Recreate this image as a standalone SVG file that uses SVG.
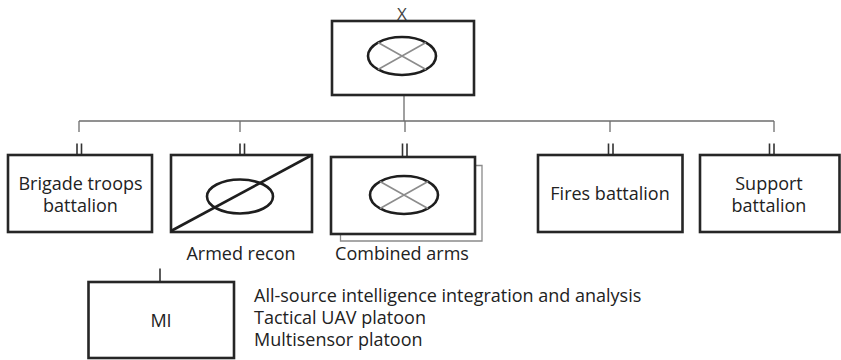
<svg xmlns="http://www.w3.org/2000/svg" width="841" height="360" viewBox="0 0 841 360">
<style>
.box{fill:#fff;stroke:#262626;stroke-width:2.6}
.shadow{fill:none;stroke:#8a8a8a;stroke-width:1.3}
.ell{fill:none;stroke:#1e1e1e;stroke-width:2.6}
.cross{stroke:#8c8c8c;stroke-width:1.6}
.conn{fill:none;stroke:#6e6e6e;stroke-width:1.3}
.tick{stroke:#333;stroke-width:1.6}
.lbl{font-family:"Open Sans","Noto Sans",sans-serif;font-size:18px;fill:#222;text-anchor:middle}
.note{font-family:"Open Sans","Noto Sans",sans-serif;font-size:18px;fill:#222}
</style>
<rect width="841" height="360" fill="#fff"/>
<g id="connectors">
<path class="conn" d="M404 95V121M79 121H774M79 121V132M240 121V132M405 121V132M610 121V132M774 121V132"/>
<g id="ticks">
<path class="tick" d="M77 143.5V155M81.5 143.5V155"/>
<path class="tick" d="M240 143.5V155M244.5 143.5V155"/>
<path class="tick" d="M402.5 143.5V157M407 143.5V157"/>
<path class="tick" d="M608.5 143.5V155M613 143.5V155"/>
<path class="tick" d="M769.5 143.5V155M774 143.5V155"/>
<path class="tick" d="M160 268.5V282"/>
</g>
</g>
<g id="brigade">
<text x="402" y="20" style="font-family:'Open Sans',sans-serif;font-size:17px;fill:#444;text-anchor:middle">X</text>
<rect class="box" x="332" y="21" width="142" height="74"/>
<ellipse class="ell" cx="402" cy="56" rx="34" ry="19"/>
<path class="cross" d="M378 42.5L426 69.5M426 42.5L378 69.5"/>
</g>
<g id="brigade-troops">
<rect class="box" x="8" y="155" width="144" height="77"/>
<text class="lbl" x="80.5" y="190">Brigade troops</text>
<text class="lbl" x="80.5" y="212">battalion</text>
</g>
<g id="armed-recon">
<rect class="box" x="171" y="155" width="141" height="77"/>
<ellipse class="ell" cx="240" cy="196.5" rx="33" ry="17"/>
<path class="ell" d="M171 231L312 155"/>
<text class="lbl" x="241" y="260">Armed recon</text>
</g>
<g id="combined-arms">
<path class="shadow" d="M340.5 234V241H482V165.5H475"/>
<rect class="box" x="331" y="157" width="144" height="77"/>
<ellipse class="ell" cx="404" cy="195" rx="34" ry="19"/>
<path class="cross" d="M380 181.5L428 208.5M428 181.5L380 208.5"/>
<text class="lbl" x="402" y="260">Combined arms</text>
</g>
<g id="fires">
<rect class="box" x="538" y="155" width="144.5" height="77"/>
<text class="lbl" x="610" y="200">Fires battalion</text>
</g>
<g id="support">
<rect class="box" x="700" y="155" width="139.5" height="77"/>
<text class="lbl" x="769" y="190">Support</text>
<text class="lbl" x="769" y="212">battalion</text>
</g>
<g id="mi">
<rect class="box" x="88.5" y="282" width="145.5" height="76"/>
<text class="lbl" x="161" y="327">MI</text>
</g>
<g id="mi-notes">
<text class="note" x="254" y="302">All-source intelligence integration and analysis</text>
<text class="note" x="254" y="324">Tactical UAV platoon</text>
<text class="note" x="254" y="346">Multisensor platoon</text>
</g>
</svg>
